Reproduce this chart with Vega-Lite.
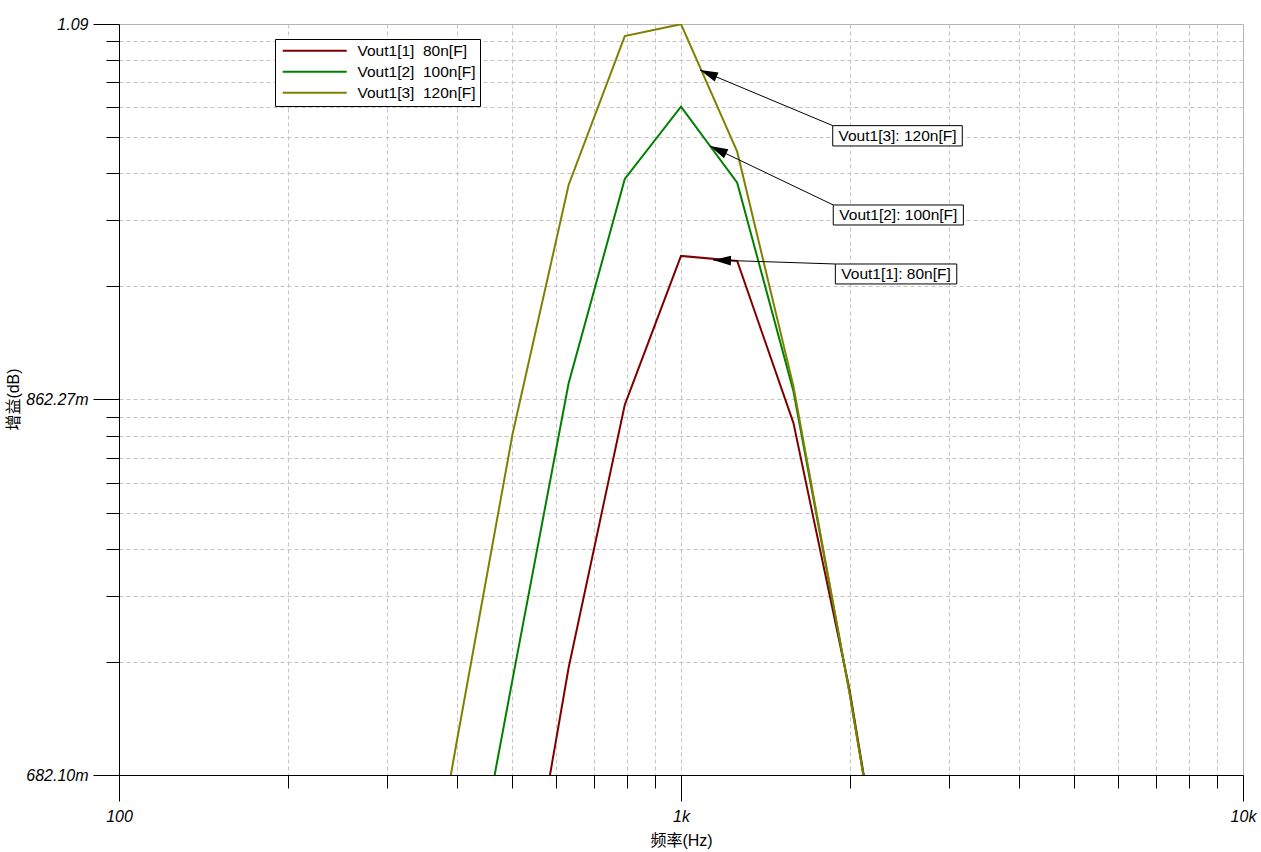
{
  "$schema": "https://vega.github.io/schema/vega-lite/v6.json",
  "width": 1124,
  "height": 751,
  "autosize": {"type": "none"},
  "padding": {"left": 119, "top": 24, "right": 18, "bottom": 77},
  "background": "white",
  "config": {
    "view": {"stroke": "#b4b4b4", "strokeWidth": 1},
    "font": "Liberation Sans",
    "axis": {
      "grid": true,
      "gridColor": "#c4c4c4",
      "gridDash": [4, 3],
      "gridWidth": 1,
      "domainColor": "black",
      "domainWidth": 1,
      "tickColor": "black",
      "tickWidth": 1,
      "labelColor": "black",
      "labelFont": "Liberation Sans",
      "labelFontSize": 16,
      "labelFontStyle": "italic",
      "labelOverlap": false,
      "labelFlush": false,
      "labelBound": false,
      "titleColor": "black",
      "titleFont": "Liberation Sans, Noto Sans CJK SC",
      "titleFontSize": 16,
      "titleFontWeight": "normal"
    }
  },
  "datasets": {
    "curves": [
      {"series": "Vout1[1]\u00a0 80n[F]", "f": 398.1, "g": 0.48},
      {"series": "Vout1[1]\u00a0 80n[F]", "f": 501.2, "g": 0.5960},
      {"series": "Vout1[1]\u00a0 80n[F]", "f": 631.0, "g": 0.7293},
      {"series": "Vout1[1]\u00a0 80n[F]", "f": 794.3, "g": 0.8594},
      {"series": "Vout1[1]\u00a0 80n[F]", "f": 1000, "g": 0.9431},
      {"series": "Vout1[1]\u00a0 80n[F]", "f": 1258.9, "g": 0.9401},
      {"series": "Vout1[1]\u00a0 80n[F]", "f": 1584.9, "g": 0.8498},
      {"series": "Vout1[1]\u00a0 80n[F]", "f": 1995.3, "g": 0.7193},
      {"series": "Vout1[1]\u00a0 80n[F]", "f": 2511.9, "g": 0.5824},
      {"series": "Vout1[1]\u00a0 80n[F]", "f": 3162.3, "g": 0.47},
      {"series": "Vout1[2]\u00a0 100n[F]", "f": 316.2, "g": 0.49},
      {"series": "Vout1[2]\u00a0 100n[F]", "f": 398.1, "g": 0.6001},
      {"series": "Vout1[2]\u00a0 100n[F]", "f": 501.2, "g": 0.7237},
      {"series": "Vout1[2]\u00a0 100n[F]", "f": 631.0, "g": 0.8710},
      {"series": "Vout1[2]\u00a0 100n[F]", "f": 794.3, "g": 0.9895},
      {"series": "Vout1[2]\u00a0 100n[F]", "f": 1000, "g": 1.0352},
      {"series": "Vout1[2]\u00a0 100n[F]", "f": 1258.9, "g": 0.9872},
      {"series": "Vout1[2]\u00a0 100n[F]", "f": 1584.9, "g": 0.8668},
      {"series": "Vout1[2]\u00a0 100n[F]", "f": 1995.3, "g": 0.7180},
      {"series": "Vout1[2]\u00a0 100n[F]", "f": 2511.9, "g": 0.5824},
      {"series": "Vout1[2]\u00a0 100n[F]", "f": 3162.3, "g": 0.47},
      {"series": "Vout1[3]\u00a0 120n[F]", "f": 251.2, "g": 0.46},
      {"series": "Vout1[3]\u00a0 120n[F]", "f": 316.2, "g": 0.5702},
      {"series": "Vout1[3]\u00a0 120n[F]", "f": 398.1, "g": 0.6951},
      {"series": "Vout1[3]\u00a0 120n[F]", "f": 501.2, "g": 0.8435},
      {"series": "Vout1[3]\u00a0 120n[F]", "f": 631.0, "g": 0.9858},
      {"series": "Vout1[3]\u00a0 120n[F]", "f": 794.3, "g": 1.0818},
      {"series": "Vout1[3]\u00a0 120n[F]", "f": 1000, "g": 1.0899},
      {"series": "Vout1[3]\u00a0 120n[F]", "f": 1258.9, "g": 1.0065},
      {"series": "Vout1[3]\u00a0 120n[F]", "f": 1584.9, "g": 0.8695},
      {"series": "Vout1[3]\u00a0 120n[F]", "f": 1995.3, "g": 0.7177},
      {"series": "Vout1[3]\u00a0 120n[F]", "f": 2511.9, "g": 0.5824},
      {"series": "Vout1[3]\u00a0 120n[F]", "f": 3162.3, "g": 0.47}
    ],
    "notes": [
      {"id": 3, "label": "Vout1[3]: 120n[F]", "tipF": 1081, "tipG": 1.0591, "boxF1": 1862, "boxF2": 3166, "boxGTop": 1.0230, "boxGBot": 1.0101, "textF": 2428, "textG": 1.0164},
      {"id": 2, "label": "Vout1[2]: 100n[F]", "tipF": 1126, "tipG": 1.0101, "boxF1": 1866, "boxF2": 3180, "boxGTop": 0.97357, "boxGBot": 0.96148, "textF": 2436, "textG": 0.96751},
      {"id": 1, "label": "Vout1[1]: 80n[F]", "tipF": 1140, "tipG": 0.94071, "boxF1": 1882, "boxF2": 3095, "boxGTop": 0.93836, "boxGBot": 0.92674, "textF": 2413, "textG": 0.93254}
    ]
  },
  "layer": [
    {
      "data": {"name": "curves"},
      "mark": {"type": "line", "strokeWidth": 2, "clip": true},
      "encoding": {
        "x": {
          "field": "f",
          "type": "quantitative",
          "scale": {"type": "log", "domain": [100, 10000], "nice": false},
          "axis": {
            "title": "频率(Hz)",
            "values": [100, 200, 300, 400, 500, 600, 700, 800, 900, 1000, 2000, 3000, 4000, 5000, 6000, 7000, 8000, 9000, 10000],
            "labelExpr": "datum.value == 100 ? '100' : datum.value == 1000 ? '1k' : datum.value == 10000 ? '10k' : ''",
            "tickSize": {"condition": {"test": "datum.value == 100 || datum.value == 1000 || datum.value == 10000", "value": 26}, "value": 13},
            "gridOpacity": {"condition": {"test": "datum.value == 100 || datum.value == 10000", "value": 0}, "value": 1},
            "labelPadding": 7,
            "titleY": 65,
            "titleBaseline": "middle"
          }
        },
        "y": {
          "field": "g",
          "type": "quantitative",
          "scale": {"type": "log", "domain": [0.6821, 1.09], "nice": false, "zero": false},
          "axis": {
            "title": "增益(dB)",
            "values": [0.6821, 0.7320, 0.7628, 0.7855, 0.8035, 0.8185, 0.8316, 0.8429, 0.8530, 0.86227, 0.9253, 0.9643, 0.9930, 1.0158, 1.0347, 1.0512, 1.0656, 1.0783, 1.09],
            "labelExpr": "datum.value >= 1.089 ? '1.09' : datum.value == 0.86227 ? '862.27m' : datum.value <= 0.6822 ? '682.10m' : ''",
            "tickSize": {"condition": {"test": "datum.value >= 1.089 || datum.value == 0.86227 || datum.value <= 0.6822", "value": 26}, "value": 13},
            "gridOpacity": {"condition": {"test": "datum.value >= 1.089 || datum.value <= 0.6822", "value": 0}, "value": 1},
            "labelPadding": 5,
            "titleX": -106,
            "titleY": 375,
            "titleAngle": 270,
            "titleAlign": "center",
            "titleBaseline": "middle"
          }
        },
        "color": {
          "field": "series",
          "type": "nominal",
          "scale": {
            "domain": ["Vout1[1]\u00a0 80n[F]", "Vout1[2]\u00a0 100n[F]", "Vout1[3]\u00a0 120n[F]"],
            "range": ["#800000", "#008000", "#808000"]
          },
          "legend": {
            "orient": "none",
            "legendX": 156,
            "legendY": 15,
            "title": null,
            "strokeColor": "black",
            "fillColor": "white",
            "padding": 4,
            "symbolType": "M-1.25,0L14.75,0",
            "symbolOffset": 1,
            "symbolSize": 64,
            "symbolStrokeWidth": 2,
            "labelOffset": 62,
            "labelFont": "Liberation Sans",
            "labelFontSize": 15.5,
            "labelColor": "black",
            "rowPadding": 4
          }
        }
      }
    },
    {
      "data": {"name": "notes"},
      "mark": {"type": "rule", "color": "black", "strokeWidth": 1},
      "encoding": {
        "x": {"field": "boxF1", "type": "quantitative"},
        "y": {"field": "boxGTop", "type": "quantitative"},
        "x2": {"field": "tipF"},
        "y2": {"field": "tipG"}
      }
    },
    {
      "data": {"name": "notes"},
      "mark": {"type": "point", "shape": "M0,0L-0.55,2L0.55,2Z", "filled": true, "color": "black", "size": 324, "opacity": 1, "strokeWidth": 0},
      "encoding": {
        "x": {"field": "tipF", "type": "quantitative"},
        "y": {"field": "tipG", "type": "quantitative"},
        "angle": {"condition": [{"test": "datum.id == 3", "value": 292.8}, {"test": "datum.id == 2", "value": 295.6}], "value": 271.9}
      }
    },
    {
      "data": {"name": "notes"},
      "mark": {"type": "rect", "fill": "white", "stroke": "black", "strokeWidth": 1},
      "encoding": {
        "x": {"field": "boxF1", "type": "quantitative"},
        "x2": {"field": "boxF2"},
        "y": {"field": "boxGTop", "type": "quantitative"},
        "y2": {"field": "boxGBot"}
      }
    },
    {
      "data": {"name": "notes"},
      "mark": {"type": "text", "font": "Liberation Sans", "fontSize": 15.5, "color": "black", "align": "center", "baseline": "middle"},
      "encoding": {
        "x": {"field": "textF", "type": "quantitative"},
        "y": {"field": "textG", "type": "quantitative"},
        "text": {"field": "label"}
      }
    }
  ]
}
